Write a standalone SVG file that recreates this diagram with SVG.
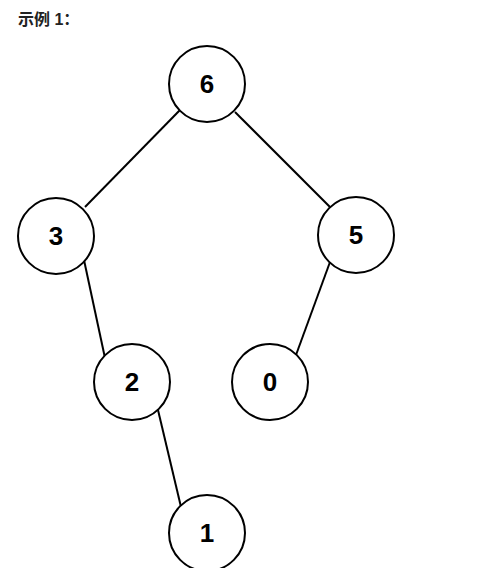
<svg xmlns="http://www.w3.org/2000/svg" width="480" height="568" viewBox="0 0 480 568">
<style>
.n circle{fill:#fff;stroke:#000;stroke-width:2}
.n text{font-family:"Liberation Sans",Arial,sans-serif;font-weight:bold;font-size:26px;fill:#000;text-anchor:middle;dominant-baseline:central}
.e line{stroke:#000;stroke-width:2}
.t{font-family:"Liberation Sans","Noto Sans CJK SC",sans-serif;font-weight:bold;font-size:16px;fill:#222}
</style>
<rect width="480" height="568" fill="#fff"/>
<text class="t" x="18" y="25">示例 1：</text>
<g id="edges" class="e">
<line x1="180" y1="110" x2="85" y2="207"/>
<line x1="235" y1="112" x2="330" y2="207"/>
<line x1="84" y1="260" x2="105" y2="358"/>
<line x1="330" y1="262" x2="296" y2="355"/>
<line x1="158" y1="410" x2="181" y2="507"/>
</g>
<g id="n6" class="n"><circle cx="207" cy="84" r="38"/><text x="207" y="84">6</text></g>
<g id="n3" class="n"><circle cx="56" cy="236" r="38"/><text x="56" y="236">3</text></g>
<g id="n5" class="n"><circle cx="356" cy="235" r="38"/><text x="356" y="235">5</text></g>
<g id="n2" class="n"><circle cx="132" cy="382" r="38"/><text x="132" y="382">2</text></g>
<g id="n0" class="n"><circle cx="270" cy="382" r="38"/><text x="270" y="382">0</text></g>
<g id="n1" class="n"><circle cx="207" cy="533" r="38"/><text x="207" y="533">1</text></g>
</svg>
